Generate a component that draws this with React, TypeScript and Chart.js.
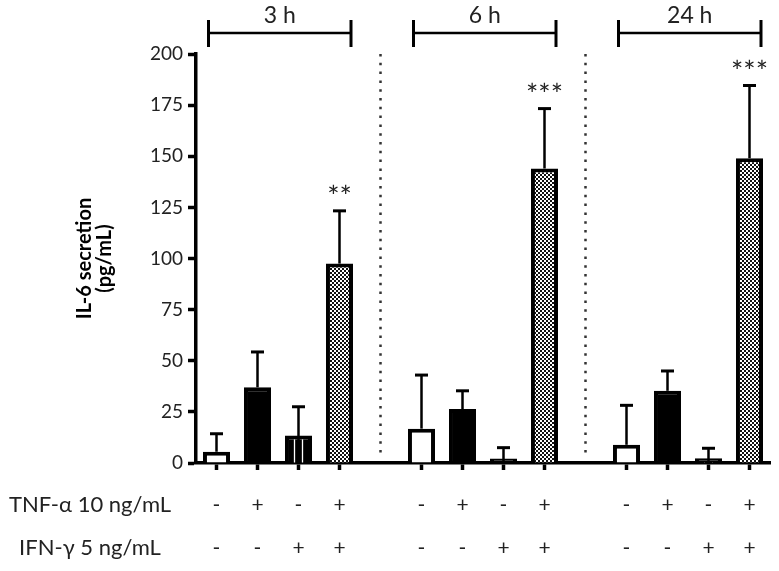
import React, { useEffect, useRef } from 'react';
import { Chart, registerables } from 'chart.js';

Chart.register(...registerables);

// ---- data ----
const tnfRow = ['-', '+', '-', '+', '', '-', '+', '-', '+', '', '-', '+', '-', '+'];
const ifnRow = ['-', '-', '+', '+', '', '-', '-', '+', '+', '', '-', '-', '+', '+'];
const il6Mean = [5.5, 37, 13.5, 97.5, null, 16.8, 26.4, 2.2, 144, null, 8.9, 35.3, 2.3, 149];
const il6Sd = [8.8, 17.3, 14, 25.8, null, 26.2, 8.9, 5.3, 29.3, null, 19.3, 9.7, 4.9, 35.6];
const significance = ['', '', '', '**', '', '', '', '', '***', '', '', '', '', '***'];
const groupLabels = ['3 h', '6 h', '24 h'];
const groupStart = [0, 5, 10];
const groupEnd = [3, 8, 13];
const separatorIdx = [4, 9];
const yTicks = [0, 25, 50, 75, 100, 125, 150, 175, 200];
const rowNames = ['TNF-\u03b1 10 ng/mL', 'IFN-\u03b3 5 ng/mL'];
const yTitle = ['IL-6 secretion', '(pg/mL)'];

const FONT = 'Lato, "Open Sans", sans-serif';
const TEXT = '#222';

export default function App() {
  const ref = useRef<HTMLCanvasElement>(null);

  useEffect(() => {
    const canvas = ref.current!;
    const c2d = canvas.getContext('2d')!;
    const pc = document.createElement('canvas');
    pc.width = 4;
    pc.height = 4;
    const p = pc.getContext('2d')!;
    p.fillStyle = '#111';
    p.fillRect(0, 0, 4, 4);
    p.fillStyle = '#fff';
    p.fillRect(0, 0, 2, 2);
    p.fillRect(2, 2, 2, 2);
    const checker = c2d.createPattern(pc, 'repeat')!;

    const kind = (i: number) => {
      const t = tnfRow[i] === '+';
      const f = ifnRow[i] === '+';
      if (t && f) return 'both';
      if (t) return 'tnf';
      if (f) return 'ifn';
      return 'ctrl';
    };
    const fills = il6Mean.map((_, i) => {
      const k = kind(i);
      if (k === 'both') return checker;
      if (k === 'ctrl') return '#ffffff';
      return '#000000';
    });

    const overlay = {
      id: 'overlay',
      afterDatasetsDraw(chart: any) {
        const { ctx, scales } = chart;
        const x = scales.x;
        const y = scales.y;
        const meta = chart.getDatasetMeta(0);
        ctx.save();
        meta.data.forEach((bar: any, i: number) => {
          const m = il6Mean[i];
          if (m == null) return;
          const props = bar.getProps(['x', 'y', 'base', 'width'], true);
          const bx = props.x;
          const by = props.y;
          if (kind(i) === 'ifn') {
            ctx.strokeStyle = '#fff';
            ctx.lineWidth = 1.3;
            [-4, 4].forEach((dx) => {
              ctx.beginPath();
              ctx.moveTo(bx + dx, by + 4);
              ctx.lineTo(bx + dx, props.base);
              ctx.stroke();
            });
          }
          const top = y.getPixelForValue(m + (il6Sd[i] as number));
          ctx.strokeStyle = '#000';
          ctx.lineWidth = 2.5;
          ctx.beginPath();
          ctx.moveTo(bx, kind(i) === 'ifn' ? props.base : by);
          ctx.lineTo(bx, top);
          ctx.stroke();
          ctx.lineWidth = 3;
          ctx.beginPath();
          ctx.moveTo(bx - 6.5, top);
          ctx.lineTo(bx + 6.5, top);
          ctx.stroke();
          if (significance[i]) {
            ctx.fillStyle = TEXT;
            ctx.font = '29px ' + FONT;
            ctx.textAlign = 'center';
            ctx.textBaseline = 'middle';
            ctx.fillText(significance[i], bx, top - 13);
          }
        });
        // separators
        ctx.strokeStyle = '#333';
        ctx.lineWidth = 2.5;
        ctx.setLineDash([2.5, 6.3]);
        separatorIdx.forEach((idx) => {
          const sx = x.getPixelForValue(idx);
          ctx.beginPath();
          ctx.moveTo(sx, y.getPixelForValue(200));
          ctx.lineTo(sx, y.getPixelForValue(3));
          ctx.stroke();
        });
        ctx.setLineDash([]);
        // group brackets
        groupLabels.forEach((g, k) => {
          const x0 = x.getPixelForValue(groupStart[k]) - 8;
          const x1 = x.getPixelForValue(groupEnd[k]) + 11.5;
          ctx.strokeStyle = '#000';
          ctx.lineWidth = 2.5;
          ctx.beginPath();
          ctx.moveTo(x0, 33);
          ctx.lineTo(x1, 33);
          ctx.stroke();
          ctx.lineWidth = 3;
          [x0, x1].forEach((ex) => {
            ctx.beginPath();
            ctx.moveTo(ex, 20);
            ctx.lineTo(ex, 47);
            ctx.stroke();
          });
          ctx.fillStyle = TEXT;
          ctx.font = '23px ' + FONT;
          ctx.textAlign = 'center';
          ctx.textBaseline = 'middle';
          ctx.fillText(g, (x0 + x1) / 2, 16);
        });
        // row names
        ctx.fillStyle = TEXT;
        ctx.font = '22px ' + FONT;
        ctx.textAlign = 'center';
        ctx.textBaseline = 'middle';
        const r0 = x.top + 7 + 13.5 + 21.5;
        rowNames.forEach((r, k) => ctx.fillText(r, 90, r0 + k * 43));
        ctx.restore();
      },
    };

    const chart = new Chart(canvas, {
      type: 'bar',
      data: {
        labels: tnfRow.map((t, i) => [t, ifnRow[i]]),
        datasets: [
          {
            data: il6Mean as any,
            backgroundColor: fills as any,
            borderColor: '#000',
            borderWidth: 4,
            borderSkipped: 'start',
            barPercentage: 0.66,
            categoryPercentage: 1,
          },
        ],
      },
      options: {
        responsive: false,
        animation: false,
        layout: { padding: { top: 54, right: 9, left: 0, bottom: 0 } },
        plugins: { legend: { display: false }, tooltip: { enabled: false } },
        scales: {
          x: {
            offset: true,
            border: { display: true, color: '#000', width: 3.5 },
            grid: {
              offset: false,
              drawOnChartArea: false,
              tickLength: 7,
              tickWidth: 3.5,
              tickColor: (c: any) => (tnfRow[c.index] ? '#000' : 'rgba(0,0,0,0)'),
            },
            ticks: {
              color: TEXT,
              padding: 13.5,
              font: { family: FONT, size: 21, lineHeight: '43px' as any },
              maxRotation: 0,
              autoSkip: false,
            },
            afterFit: (s: any) => {
              s.height = 108;
            },
          },
          y: {
            min: 0,
            max: 200,
            border: { display: true, color: '#000', width: 3.5 },
            grid: { drawOnChartArea: false, tickLength: 8, tickWidth: 3.5, tickColor: '#000' },
            afterBuildTicks: (s: any) => {
              s.ticks = yTicks.map((v) => ({ value: v }));
            },
            ticks: { color: TEXT, padding: 5, font: { family: FONT, size: 19 } },
            title: {
              display: true,
              text: yTitle,
              color: '#000',
              font: { family: FONT, size: 20, weight: 'bold', lineHeight: '20px' as any },
              padding: { top: 75, bottom: 0 },
            },
            afterFit: (s: any) => {
              s.width = 196;
            },
          },
        },
      },
      plugins: [overlay],
    });
    return () => chart.destroy();
  }, []);

  return (
    <div style={{ position: 'fixed', left: 0, top: 0, width: 779, height: 571, background: '#fff' }}>
      <canvas ref={ref} width={779} height={571} style={{ display: 'block' }} />
    </div>
  );
}
